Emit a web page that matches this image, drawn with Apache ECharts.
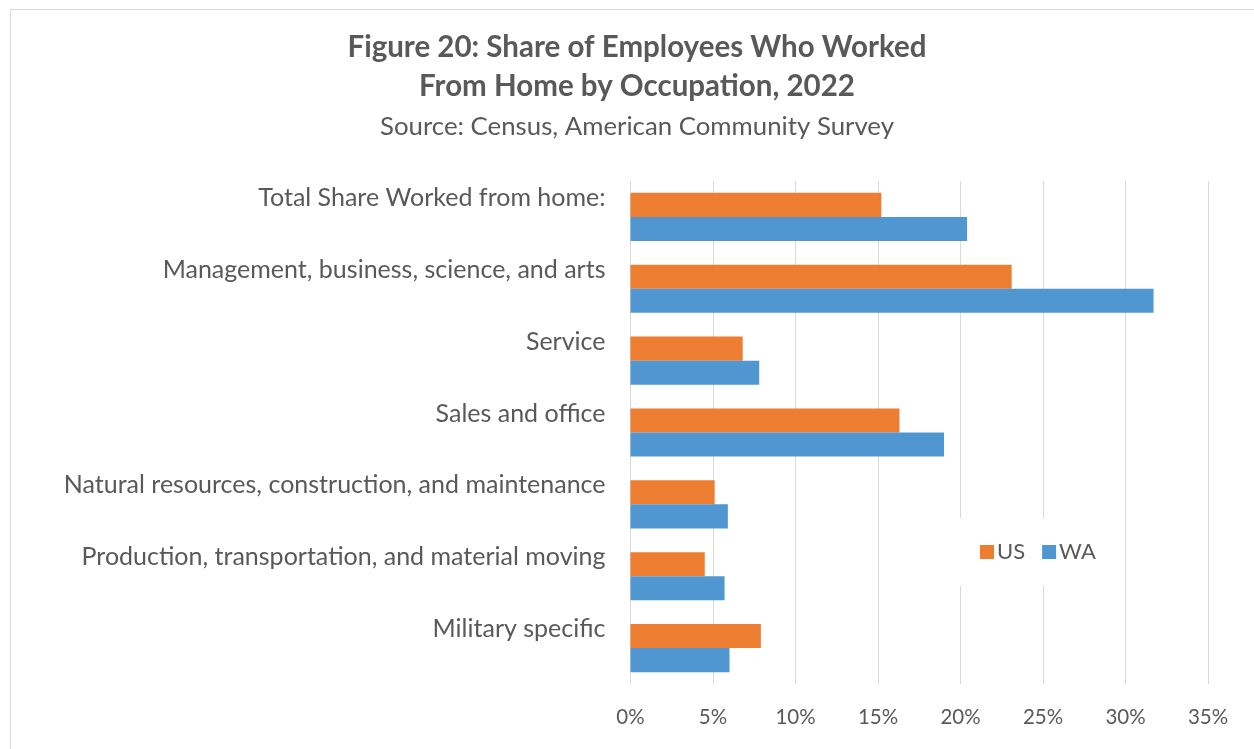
<!DOCTYPE html>
<html>
<head>
<meta charset="utf-8">
<script src="https://cdn.jsdelivr.net/npm/echarts@6/dist/echarts.min.js"></script>
<style>
  html, body { margin: 0; padding: 0; background: #fff; }
  #chart { width: 1254px; height: 749px; }
</style>
</head>
<body>
<div id="chart"></div>
<script>
// Occupations, top to bottom
const occupations = [
  'Total Share Worked from home:',
  'Management, business, science, and arts',
  'Service',
  'Sales and office',
  'Natural resources, construction, and maintenance',
  'Production, transportation, and material moving',
  'Military specific'
];

// Share of employees working from home, 2022 (%)
const usShare = [15.2, 23.1, 6.8, 16.3, 5.1, 4.5, 7.9];
const waShare = [20.4, 31.7, 7.8, 19.0, 5.9, 5.7, 6.0];

const seriesNames = ['US', 'WA'];

const FONT = 'Lato, "Open Sans", sans-serif';
const TEXT = '#595959';

const chart = echarts.init(document.getElementById('chart'), null, { renderer: 'canvas' });

chart.setOption({
  backgroundColor: '#ffffff',
  animation: false,
  graphic: [{
    type: 'rect',
    shape: { x: 10.5, y: 9.5, width: 1300, height: 800 },
    style: { fill: 'none', stroke: '#d9d9d9', lineWidth: 1 },
    silent: true
  }],
  title: [{
    text: 'Figure 20: Share of Employees Who Worked\nFrom Home by Occupation, 2022',
    left: 632,
    top: 23,
    textAlign: 'center',
    textStyle: {
      fontFamily: FONT, fontWeight: 'bold', fontSize: 29.5,
      color: TEXT, lineHeight: 39, align: 'center'
    }
  }, {
    text: 'Source: Census, American Community Survey',
    left: 632,
    top: 109,
    textAlign: 'center',
    textStyle: {
      fontFamily: FONT, fontWeight: 'normal', fontSize: 25.8, color: TEXT
    }
  }],
  legend: {
    data: seriesNames,
    left: 958,
    top: 518,
    orient: 'horizontal',
    backgroundColor: '#ffffff',
    padding: [23, 20, 23, 22],
    itemWidth: 14,
    itemHeight: 14,
    itemGap: 17,
    icon: 'rect',
    textStyle: { fontFamily: FONT, fontSize: 22, color: TEXT, padding: [0, 0, 0, -2] }
  },
  grid: {
    left: 630.5,
    right: 1254 - 1208,
    top: 181,
    bottom: 749 - 684,
    containLabel: false
  },
  xAxis: {
    type: 'value',
    min: 0,
    max: 35,
    interval: 5,
    axisLine: { show: false },
    axisTick: { show: false },
    splitLine: { show: true, lineStyle: { color: '#d9d9d9', width: 1 } },
    axisLabel: {
      formatter: v => v + '%',
      fontFamily: FONT, fontSize: 20.5, color: TEXT, margin: 23
    }
  },
  yAxis: {
    type: 'category',
    data: occupations,
    inverse: true,
    axisLine: { show: false },
    axisTick: { show: false },
    splitLine: { show: false },
    axisLabel: {
      fontFamily: FONT, fontSize: 25, color: TEXT, margin: 25,
      lineHeight: 38,
      verticalAlign: 'bottom'
    }
  },
  series: [{
    name: 'US',
    type: 'bar',
    data: usShare,
    itemStyle: { color: '#ED7D31' },
    barGap: '0%',
    barCategoryGap: '33%'
  }, {
    name: 'WA',
    type: 'bar',
    data: waShare,
    itemStyle: { color: '#5097D2' },
    barGap: '0%',
    barCategoryGap: '33%'
  }]
});
</script>
</body>
</html>
